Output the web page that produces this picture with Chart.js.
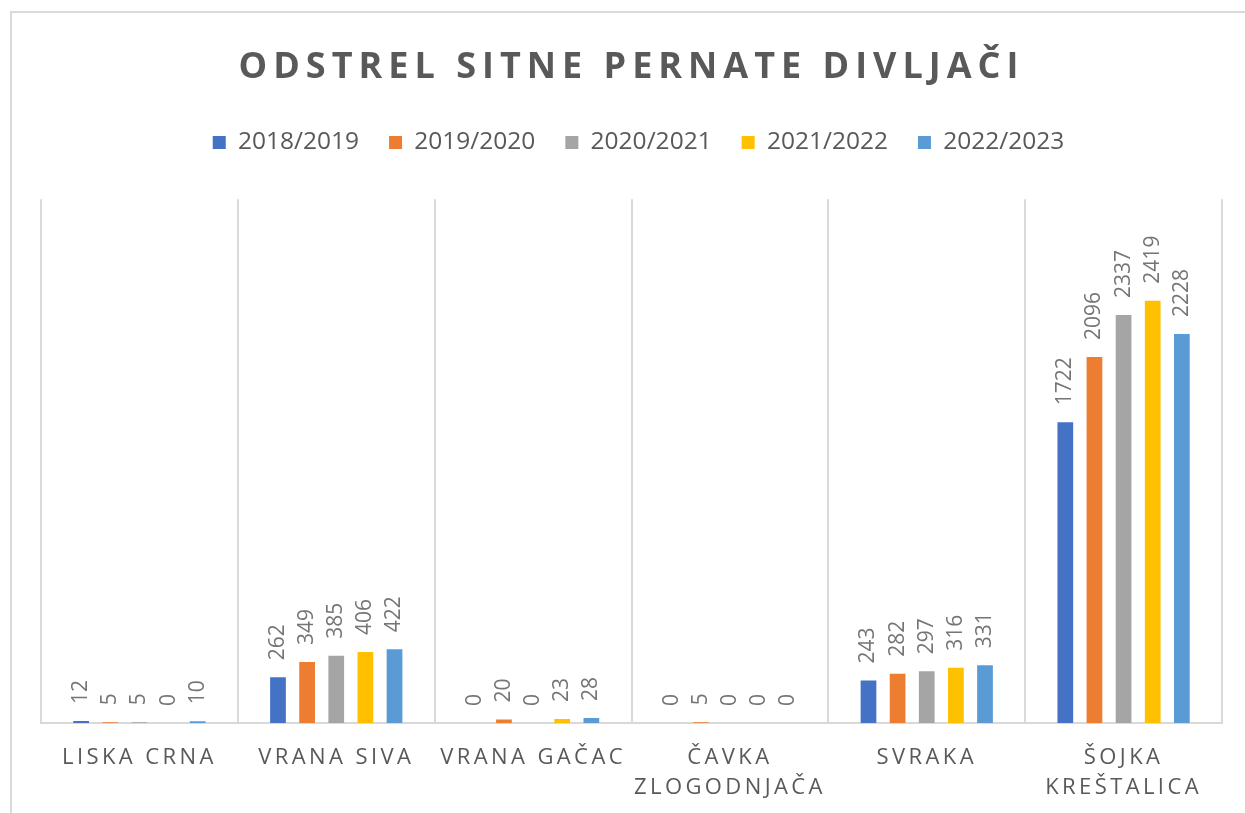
<!DOCTYPE html>
<html>
<head>
<meta charset="utf-8">
<script src="https://cdn.jsdelivr.net/npm/chart.js@4"></script>
<style>
  html, body { margin: 0; padding: 0; background: #fff; overflow: hidden; }
  #wrap { position: relative; width: 1245px; height: 813px; overflow: hidden; }
  #frame { position: absolute; left: 10px; top: 11px; width: 1300px; height: 900px; border: 2px solid #d9d9d9; box-sizing: border-box; }
  #odstrel { position: absolute; left: 0; top: 0; }
</style>
</head>
<body>
<div id="wrap">
  <div id="frame"></div>
  <canvas id="odstrel" width="1245" height="813"></canvas>
</div>
<script>
const categories = [
  'LISKA CRNA',
  'VRANA SIVA',
  'VRANA GAČAC',
  ['ČAVKA', 'ZLOGODNJAČA'],
  'SVRAKA',
  ['ŠOJKA', 'KREŠTALICA']
];
const seasons = ['2018/2019', '2019/2020', '2020/2021', '2021/2022', '2022/2023'];
const s2018 = [12, 262, 0, 0, 243, 1722];
const s2019 = [5, 349, 20, 5, 282, 2096];
const s2020 = [5, 385, 0, 0, 297, 2337];
const s2021 = [0, 406, 23, 0, 316, 2419];
const s2022 = [10, 422, 28, 0, 331, 2228];
const colors = ['#4472C4', '#ED7D31', '#A5A5A5', '#FFC000', '#5B9BD5'];

const seriesValues = [s2018, s2019, s2020, s2021, s2022];

// canvas letter spacing for title and category labels
const spacing = {
  id: 'spacing',
  beforeLayout(chart) {
    // leave a gap under the legend, nudge it right a little
    const lg = chart.legend;
    if (lg && !lg._fitPatched) {
      const fit = lg.fit;
      lg._fitPatched = true;
      lg.fit = function () {
        fit.call(this);
        this.height = 99;
        this.lineWidths = this.lineWidths.map(w => w - 14);
      };
    }
  },
  beforeDraw(chart) {
    const wrap = (obj, fn, sp) => {
      if (!obj || obj['_sp_' + fn]) return;
      const orig = obj[fn];
      obj['_sp_' + fn] = true;
      obj[fn] = function (...args) {
        const ctx = chart.ctx;
        const old = ctx.letterSpacing;
        ctx.letterSpacing = sp;
        orig.apply(this, args);
        ctx.letterSpacing = old;
      };
    };
    wrap(chart.titleBlock, 'draw', '6px');
    wrap(chart.scales.x, 'drawLabels', '3.4px');
  }
};

// vertical value labels above bars
const barLabels = {
  id: 'barLabels',
  afterDatasetsDraw(chart) {
    const ctx = chart.ctx;
    ctx.save();
    ctx.font = '21px "Open Sans"';
    ctx.fillStyle = '#757575';
    ctx.textAlign = 'left';
    ctx.textBaseline = 'middle';
    chart.data.datasets.forEach((ds, i) => {
      chart.getDatasetMeta(i).data.forEach((bar, j) => {
        ctx.save();
        ctx.translate(bar.x, bar.y - 17);
        ctx.rotate(-Math.PI / 2);
        ctx.fillText(String(ds.data[j]), 0, 0);
        ctx.restore();
      });
    });
    ctx.restore();
  }
};

new Chart(document.getElementById('odstrel'), {
  type: 'bar',
  data: {
    labels: categories,
    datasets: seasons.map((s, i) => ({
      label: s,
      data: seriesValues[i],
      backgroundColor: colors[i],
      borderWidth: 0,
      categoryPercentage: 0.74,
      barPercentage: 0.54
    }))
  },
  options: {
    responsive: false,
    animation: false,
    layout: { padding: { top: 25, left: 41, right: 23, bottom: 0 } },
    plugins: {
      title: {
        display: true,
        text: 'ODSTREL SITNE PERNATE DIVLJAČI',
        color: '#595959',
        font: { family: '"Open Sans"', size: 36, weight: 'bold' },
        padding: { top: 21, bottom: 11 }
      },
      legend: {
        position: 'top',
        labels: {
          color: '#595959',
          font: { family: '"Open Sans"', size: 24.5 },
          boxWidth: 13,
          boxHeight: 13,
          padding: 30
        }
      },
      tooltip: { enabled: false }
    },
    scales: {
      x: {
        grid: { color: '#d9d9d9', lineWidth: 2, drawTicks: false, offset: true },
        border: { color: '#d9d9d9', width: 2 },
        ticks: {
          color: '#595959',
          font: { family: '"Open Sans"', size: 22, lineHeight: 1.36 },
          padding: 20,
          maxRotation: 0,
          autoSkip: false
        },
        afterFit(scale) {
          scale.height = 90;
        }
      },
      y: {
        display: false,
        min: 0,
        max: 3000
      }
    }
  },
  plugins: [spacing, barLabels]
});
</script>
</body>
</html>
